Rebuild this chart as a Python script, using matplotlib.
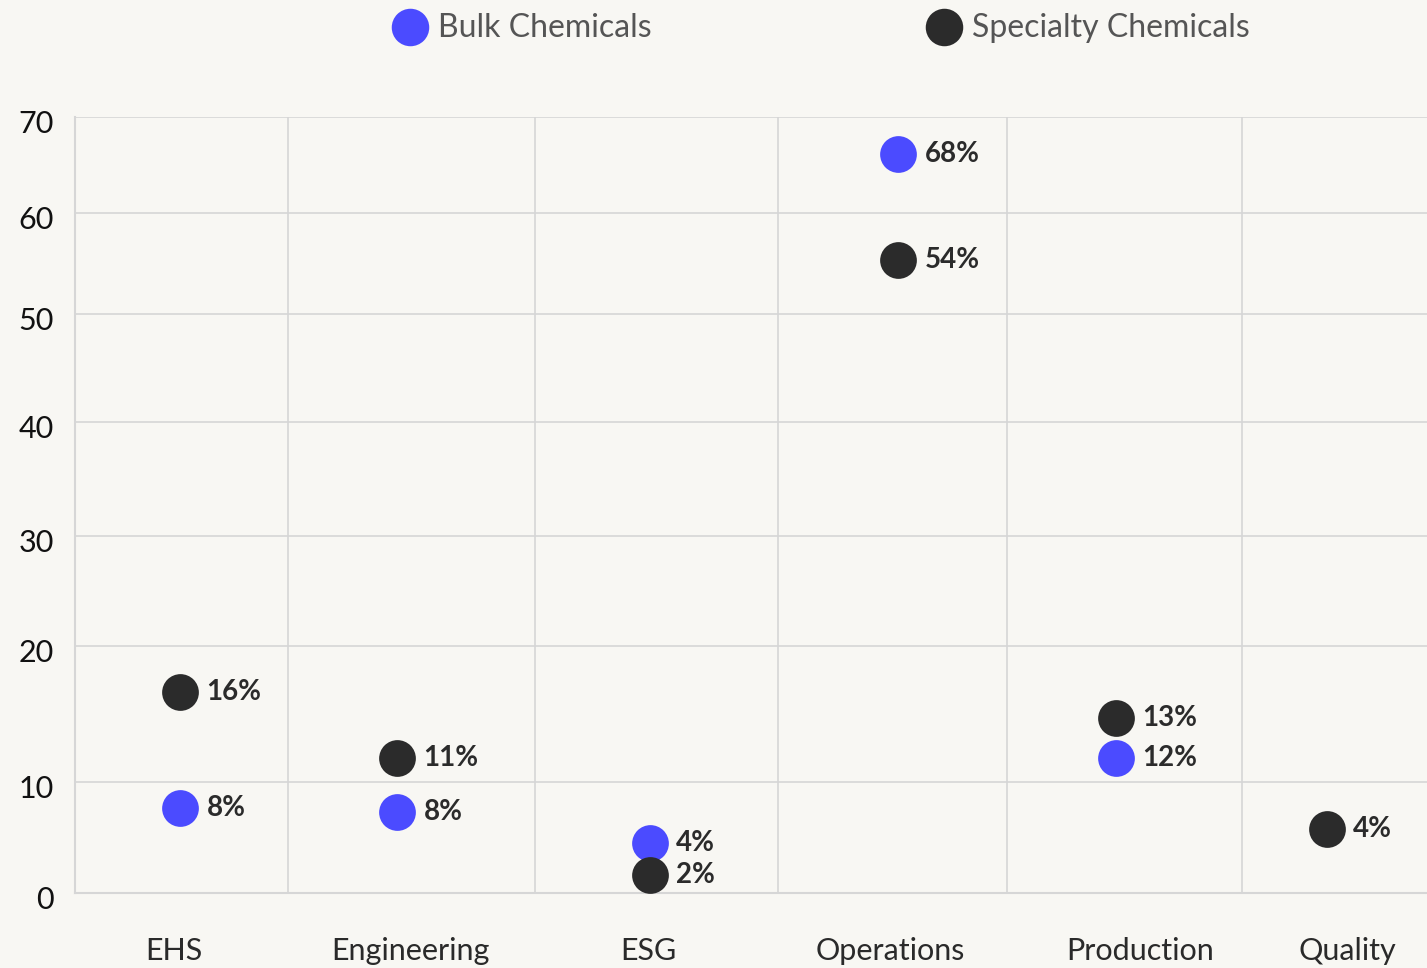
import numpy as np
import matplotlib
matplotlib.use("Agg")
import matplotlib.pyplot as plt
import matplotlib.transforms as mtransforms
from matplotlib.lines import Line2D

plt.rcParams['font.family'] = ['Lato', 'DejaVu Sans']

categories = ["EHS", "Engineering", "ESG", "Operations", "Production", "Quality"]
# percentages printed next to the dots
bulk_labels = [8, 8, 4, 68, 12, None]
specialty_labels = [16, 11, 2, 54, 13, 4]
# where the dots sit on the y axis
bulk_pos = [7.7, 7.3, 4.5, 66.1, 11.8, None]
specialty_pos = [16.6, 11.8, 1.6, 55.3, 14.7, 5.8]
y_ticks = [0, 10, 20, 30, 40, 50, 60, 70]

# uneven spacing of the original y axis (pixels above the baseline)
y_tick_px = [0, 111, 247, 357, 471, 579, 680, 776]
# uneven column edges, dot columns and label columns (pixels from plot left)
col_edges = [0, 213, 460, 703, 932, 1167, 1352]
dot_x = [105, 322, 575, 823, 1041, 1252]
label_x = [99, 335, 573, 815, 1065, 1272]

BLUE = '#4b4bff'
DARK = '#2b2b2b'
BG = '#f8f7f3'
GRID = '#d6d6d6'


def fwd(v):
    return np.interp(v, y_ticks, y_tick_px)


def inv(p):
    return np.interp(p, y_tick_px, y_ticks)


fig = plt.figure(figsize=(14.27, 9.68), dpi=100, facecolor=BG)
ax = fig.add_axes([75 / 1427, 1 - 893 / 968, 1 - 75 / 1427, (893 - 117) / 968])
ax.set_facecolor(BG)
ax.set_yscale('function', functions=(fwd, inv))
ax.set_ylim(0, 70)
ax.set_xlim(col_edges[0], col_edges[-1])

for s in ['top', 'right']:
    ax.spines[s].set_visible(False)
for s in ['left', 'bottom']:
    ax.spines[s].set_color(GRID)
    ax.spines[s].set_linewidth(1.5)

for e in col_edges[1:-1]:
    ax.axvline(e, color=GRID, lw=1.2, zorder=1)
for t in y_ticks[1:]:
    ax.axhline(t, color=GRID, lw=1.2, zorder=1)

ax.set_yticks(y_ticks)
ax.set_yticklabels([str(t) for t in y_ticks])
ax.tick_params(axis='y', length=0, pad=15, labelsize=22, labelcolor='#111111')
shift = mtransforms.ScaledTranslation(0, -3 / 72, fig.dpi_scale_trans)
for lab in ax.get_yticklabels():
    lab.set_transform(lab.get_transform() + shift)
ax.set_xticks(label_x)
ax.set_xticklabels(categories)
ax.tick_params(axis='x', length=0, pad=32, labelsize=22, labelcolor='#2a2a2a')

for pos, labels, color in [(bulk_pos, bulk_labels, BLUE), (specialty_pos, specialty_labels, DARK)]:
    for x, v, lab in zip(dot_x, pos, labels):
        if v is None:
            continue
        ax.scatter([x], [v], s=700, color=color, zorder=3, linewidths=0)
        ax.annotate(f"{lab}%", (x, v), xytext=(19, 0), textcoords='offset points',
                    va='center', ha='left', fontsize=20, fontweight='bold',
                    color=DARK, zorder=4)

# legend on top
legend_items = [("Bulk Chemicals", BLUE, 410), ("Specialty Chemicals", DARK, 944)]
for label, color, px in legend_items:
    fig.add_artist(Line2D([px / 1427], [1 - 27 / 968], marker='o', markersize=27,
                          color=color, markeredgewidth=0, linestyle='None',
                          transform=fig.transFigure))
    fig.text((px + 28) / 1427, 1 - 28 / 968, label, fontsize=23, color='#555555',
             va='center', ha='left')

fig.savefig('out.png', dpi=100, facecolor=BG)
